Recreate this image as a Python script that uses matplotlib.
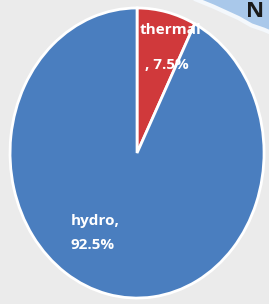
import matplotlib.pyplot as plt
from matplotlib.patches import Polygon

labels = ["thermal", "hydro"]
shares = [7.5, 92.5]
colors = ["#d0393b", "#4a7ebf"]

fig = plt.figure(figsize=(2.69, 3.04), dpi=100)
fig.patch.set_facecolor("#ebebeb")
ax = fig.add_axes([0, 0, 1, 1])
ax.set_facecolor("#ebebeb")

wedges, _ = ax.pie(shares, colors=colors, startangle=90, counterclock=False,
                   wedgeprops=dict(edgecolor="white", linewidth=2))
ax.set_aspect("auto")
ax.set_xlim(-1.079, 1.039)
ax.set_ylim(-1.041, 1.055)

# map fragment in the top-right corner
ax.add_patch(Polygon([(0.44, 1.2), (1.2, 1.2), (1.2, 0.79), (1.08, 0.82),
                      (1.0, 0.85), (0.9, 0.88), (0.8, 0.93), (0.7, 0.97),
                      (0.6, 1.01), (0.46, 1.06)],
                     closed=True, facecolor="#a9c8ea", edgecolor="#f4f8fc",
                     linewidth=3, zorder=0))
ax.text(0.86, 1.045, "N", fontsize=16, fontweight="bold", color="#1a1a1a",
        ha="left", va="top", family="Open Sans")

font = dict(color="white", fontsize=11, fontweight="bold", family="Open Sans")
ax.text(0.02, 0.85, f"{labels[0]}", ha="left", va="center", **font)
ax.text(0.06, 0.61, f", {shares[0]}%", ha="left", va="center", **font)
ax.text(-0.52, -0.55, f"{labels[1]},\n{shares[1]}%", ha="left", va="center",
        linespacing=1.9, **font)

fig.savefig("out.png", dpi=100, facecolor=fig.get_facecolor())
